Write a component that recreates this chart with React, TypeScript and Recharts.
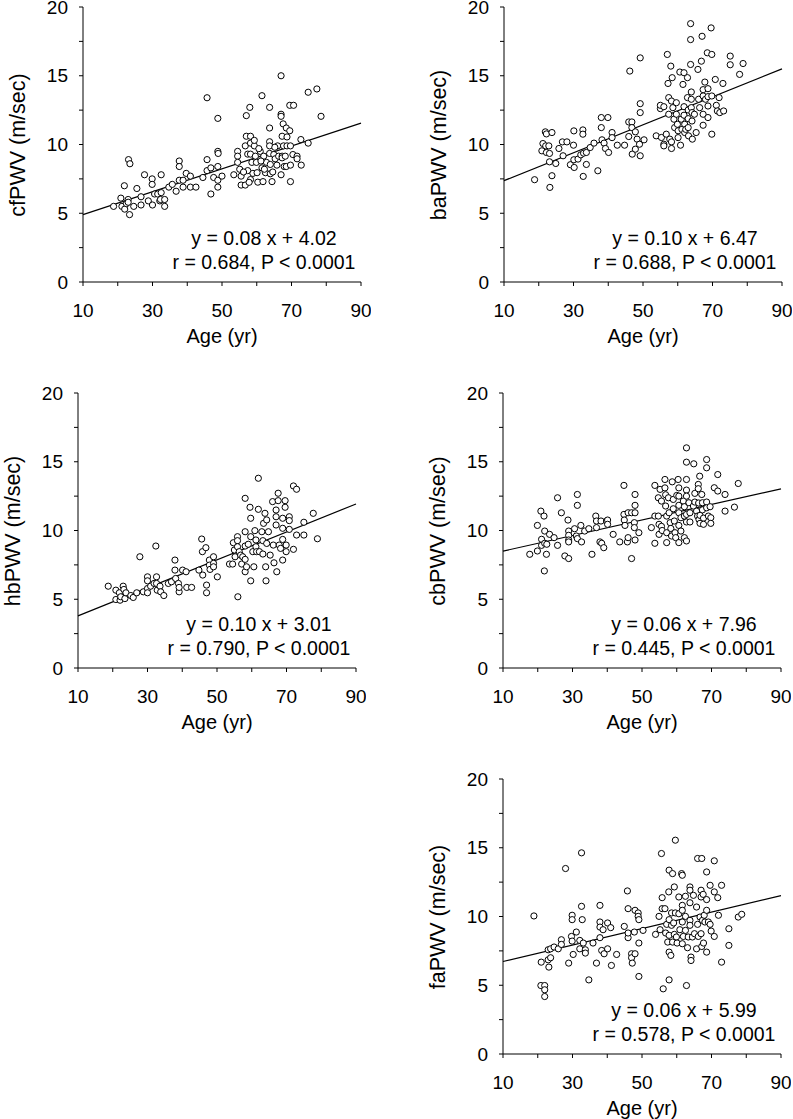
import { ScatterChart, Scatter, XAxis, YAxis, ReferenceLine } from 'recharts';

// ages (yr) vs pulse wave velocity (m/sec)
const cfPoints: [number, number][] = [
  [18.8, 5.5], [20.9, 6.1], [21.2, 5.5], [21.9, 7.0], [22.0, 5.3], [22.5, 5.7], [23.0, 6.0], [23.0, 5.8],
  [23.1, 8.9], [23.5, 8.6], [23.4, 4.9], [24.6, 5.5], [25.5, 6.8], [26.7, 6.2], [26.7, 5.6], [27.7, 7.8],
  [28.8, 5.9], [29.9, 7.5], [29.9, 7.1], [30.0, 5.6], [30.6, 6.4], [31.5, 6.4], [32.1, 5.9], [32.5, 7.8],
  [32.5, 6.5], [32.3, 6.0], [33.5, 6.0], [33.5, 5.5], [34.7, 6.9], [35.7, 7.1], [36.8, 6.6], [37.7, 8.8],
  [37.7, 8.4], [37.7, 7.4], [38.8, 7.4], [38.8, 6.9], [39.7, 7.9], [40.9, 7.7], [40.9, 6.9], [42.5, 6.9],
  [44.5, 7.6], [45.7, 8.9], [45.7, 13.4], [45.7, 8.1], [46.8, 8.3], [46.8, 6.4], [47.6, 7.6], [48.8, 11.9],
  [48.8, 9.5], [48.9, 9.35], [48.8, 8.4], [48.8, 7.4], [48.8, 6.9], [50.0, 7.7],
  [53.4, 7.8], [54.5, 9.5], [54.5, 9.15], [54.5, 8.7], [55.1, 8.2], [55.5, 7.7], [55.5, 7.05], [56.7, 9.9],
  [57.0, 10.6], [57.0, 12.1], [57.4, 9.3], [57.4, 8.1], [56.7, 7.05], [58.0, 12.7], [58.2, 10.6], [58.2, 10.1],
  [58.2, 9.3], [58.6, 8.7], [58.9, 7.9], [58.2, 7.45], [57.8, 7.25], [59.3, 9.9], [59.6, 9.15], [59.9, 8.7],
  [60.1, 7.95], [60.3, 7.26], [61.0, 9.5], [61.5, 8.3], [61.5, 13.55], [61.8, 7.3], [62.0, 9.15], [62.5, 7.95],
  [62.8, 8.7], [63.7, 12.7], [63.7, 11.2], [63.7, 10.2], [63.7, 9.9], [63.7, 9.35], [63.9, 8.55], [63.9, 7.87],
  [64.4, 7.3], [64.9, 9.27], [65.3, 8.96], [65.8, 8.5], [66.3, 9.15], [66.0, 9.9], [67.0, 15.0], [67.0, 12.2],
  [67.0, 12.05], [67.3, 10.6], [67.6, 11.5], [67.7, 9.9], [67.3, 9.15], [67.3, 9.03], [67.9, 8.4], [67.0, 7.8],
  [68.5, 11.2], [68.7, 10.55], [68.7, 9.9], [68.2, 9.15], [68.5, 8.4], [69.5, 12.85], [69.5, 11.0], [69.7, 9.9],
  [69.7, 8.5], [69.7, 7.3], [70.6, 12.85], [70.4, 9.27], [71.6, 9.15], [71.6, 8.96], [72.7, 10.36], [72.8, 8.5],
  [74.8, 13.8], [74.8, 10.1], [77.3, 14.04], [78.5, 12.05], [56.2, 8.0], [60.6, 9.7], [62.2, 8.2], [65.2, 9.8],
  [59.3, 10.3], [61.2, 8.8], [64.6, 8.0],
];

const baPoints: [number, number][] = [
  [18.8, 7.44], [21.2, 10.07], [20.9, 9.54], [21.9, 10.92], [22.2, 10.77], [22.0, 9.9], [22.2, 9.42], [22.9, 9.9],
  [23.1, 9.35], [23.1, 8.74], [23.2, 6.88], [23.8, 10.87], [23.8, 7.73], [24.9, 8.62], [25.8, 9.71], [26.8, 10.19],
  [27.0, 9.18], [28.1, 10.19], [29.1, 8.53], [30.0, 9.95], [30.1, 10.99], [30.1, 8.89], [30.2, 8.33], [31.3, 8.94],
  [32.1, 9.25], [32.7, 11.06], [32.7, 10.75], [32.8, 7.68], [32.9, 9.37], [33.7, 8.55], [33.7, 9.42], [34.8, 9.78],
  [35.9, 10.1], [37.0, 8.09], [38.0, 11.96], [38.0, 11.23], [38.2, 10.34], [38.8, 10.1], [39.2, 9.71], [39.9, 11.96],
  [40.1, 9.42], [41.1, 10.87], [41.1, 10.5], [42.6, 9.95], [44.7, 9.95], [45.9, 10.58], [45.9, 11.64], [46.2, 15.34],
  [46.8, 11.64], [46.8, 11.23], [46.9, 9.3], [47.8, 10.92], [47.8, 9.66], [48.3, 10.39], [49.0, 10.02], [49.2, 12.97],
  [49.2, 12.32], [49.2, 16.3], [49.2, 9.18], [50.3, 10.34],
  [53.8, 10.63], [55.0, 12.61], [55.0, 12.85], [55.3, 10.51], [56.0, 10.02], [56.0, 9.9], [56.0, 12.75], [56.7, 10.75],
  [57.0, 16.55], [57.2, 14.44], [57.4, 13.41], [57.4, 12.2], [57.7, 10.39], [58.0, 15.7], [58.2, 13.16], [58.2, 10.19],
  [58.2, 9.71], [58.4, 14.86], [58.6, 12.68], [58.9, 11.84], [59.1, 11.23], [59.6, 13.04], [59.6, 12.2], [59.9, 11.47],
  [60.1, 11.0], [60.1, 10.5], [60.6, 15.27], [60.8, 9.95], [61.0, 11.84], [61.2, 11.1], [61.5, 14.37], [61.8, 15.22],
  [61.8, 12.75], [61.8, 12.13], [62.0, 11.47], [62.0, 10.87], [62.3, 11.1], [62.8, 14.86], [62.8, 13.41], [63.0, 12.51],
  [63.0, 11.88], [63.0, 11.23], [63.1, 10.63], [63.7, 18.79], [63.7, 17.63], [63.7, 15.82], [63.9, 13.82], [63.9, 13.29],
  [63.9, 12.68], [64.1, 12.32], [64.1, 11.71], [64.2, 10.39], [64.8, 12.2], [65.3, 10.87], [65.8, 15.46], [66.0, 13.29],
  [66.3, 12.68], [66.8, 16.06], [67.0, 17.87], [67.3, 13.99], [67.3, 13.53], [67.3, 12.2], [67.3, 11.4], [67.8, 14.54],
  [68.0, 13.29], [68.5, 16.67], [68.7, 14.06], [68.7, 13.48], [68.7, 12.8], [68.7, 11.96], [69.6, 18.48], [69.8, 16.55],
  [69.8, 13.53], [69.8, 10.75], [70.8, 14.73], [71.1, 12.85], [71.4, 12.44], [71.9, 13.41], [72.1, 12.32], [73.0, 14.44],
  [73.2, 12.44], [75.1, 16.43], [75.1, 15.8], [77.8, 15.1], [78.8, 15.89],
];

const hbPoints: [number, number][] = [
  [18.7, 5.95], [20.9, 5.66], [20.9, 4.98], [21.9, 5.47], [22.1, 4.93], [22.3, 5.18], [23.0, 5.95], [23.2, 5.71],
  [23.5, 5.05], [23.8, 5.47], [25.2, 5.27], [25.9, 5.13], [26.9, 5.47], [27.8, 8.09], [28.8, 5.54], [30.0, 6.63],
  [30.0, 6.34], [30.0, 5.78], [30.0, 5.47], [30.9, 5.95], [31.9, 6.15], [32.4, 8.87], [32.6, 6.63], [32.6, 6.15],
  [32.8, 5.66], [33.6, 5.95], [33.8, 5.54], [34.7, 5.27], [36.0, 6.15], [36.9, 6.27], [37.9, 7.85], [37.9, 7.12],
  [38.1, 6.51], [38.9, 6.15], [39.1, 5.54], [39.1, 5.86], [40.1, 7.12], [41.1, 7.0], [41.3, 5.86], [42.7, 5.86],
  [44.8, 7.12], [45.6, 9.38], [45.8, 8.46], [45.9, 6.76], [46.8, 8.75], [47.0, 6.03], [47.0, 5.47], [47.8, 7.85],
  [47.8, 7.48], [48.0, 7.17], [49.0, 8.09], [49.0, 7.61], [49.0, 7.36], [50.1, 6.63],
  [53.6, 7.56], [54.5, 7.56], [54.7, 9.11], [55.0, 8.58], [55.2, 8.09], [55.9, 9.55], [55.9, 9.26], [55.9, 8.82],
  [56.0, 5.18], [56.4, 8.46], [56.8, 8.21], [57.1, 7.56], [57.4, 8.09], [58.1, 12.34], [58.1, 9.91], [58.1, 8.87],
  [58.1, 7.9], [58.1, 7.0], [58.5, 7.36], [59.0, 9.0], [59.5, 11.69], [59.7, 10.89], [59.7, 9.55], [59.7, 6.34],
  [60.3, 8.46], [60.6, 7.36], [60.9, 9.99], [61.2, 9.31], [61.2, 8.82], [61.4, 8.46], [61.9, 13.8], [61.9, 11.54],
  [62.2, 8.46], [62.9, 9.91], [63.2, 9.26], [63.2, 8.29], [63.4, 10.52], [63.8, 11.25], [64.0, 7.36], [64.1, 6.34],
  [64.3, 10.77], [64.3, 9.06], [64.8, 9.91], [65.3, 8.21], [66.0, 12.1], [66.2, 8.94], [66.4, 7.65], [67.0, 11.49],
  [67.0, 11.0], [67.0, 10.4], [67.2, 7.0], [67.6, 12.71], [67.6, 12.17], [67.9, 8.94], [68.3, 8.7], [68.9, 10.89],
  [68.9, 10.16], [68.9, 9.35], [68.9, 7.85], [69.6, 12.17], [69.6, 11.69], [69.9, 8.94], [69.9, 8.46], [70.8, 11.0],
  [70.8, 10.72], [70.8, 10.08], [72.0, 8.63], [72.0, 13.24], [72.9, 13.0], [72.9, 9.67], [75.0, 9.67], [75.0, 10.6],
  [77.7, 11.25], [78.9, 9.4],
];

const cbPoints: [number, number][] = [
  [17.7, 8.27], [19.9, 10.37], [19.9, 8.51], [20.9, 11.41], [21.1, 9.36], [21.1, 8.92], [21.8, 11.05], [22.0, 9.96],
  [22.0, 9.07], [21.9, 7.06], [22.5, 8.27], [22.6, 9.0], [23.4, 9.72], [24.7, 9.48], [25.7, 12.38], [25.7, 8.92],
  [26.8, 11.29], [27.8, 8.15], [28.7, 10.76], [28.9, 9.96], [28.9, 9.65], [28.9, 9.31], [28.9, 9.17], [28.9, 7.96],
  [30.6, 10.13], [31.1, 9.6], [31.4, 12.62], [31.4, 11.83], [31.4, 9.41], [32.4, 10.37], [32.6, 9.17], [33.5, 9.96],
  [34.7, 10.13], [35.6, 8.27], [36.7, 11.05], [36.9, 10.69], [36.9, 10.21], [37.9, 9.17], [38.2, 10.69], [38.4, 9.07],
  [39.0, 8.75], [39.8, 10.69], [40.1, 10.76], [40.1, 10.45], [41.7, 9.72], [43.6, 9.17], [44.8, 13.28], [44.8, 11.17],
  [44.9, 10.76], [45.1, 10.37], [45.8, 9.17], [46.0, 11.29], [46.0, 9.48], [47.0, 11.29], [47.0, 7.96], [47.8, 10.57],
  [47.8, 10.21], [48.0, 11.83], [48.0, 11.29], [48.0, 12.62], [48.0, 9.31], [49.1, 9.84],
  [52.7, 10.21], [53.7, 13.28], [53.7, 11.05], [53.7, 9.07], [54.7, 12.38], [54.7, 11.05], [54.9, 10.45], [54.9, 9.72],
  [55.2, 12.99], [55.6, 12.14], [55.6, 10.3], [55.8, 10.0], [56.6, 13.71], [56.6, 13.1], [56.8, 12.6], [56.8, 11.78],
  [57.1, 11.05], [57.1, 9.84], [57.1, 9.12], [57.6, 12.38], [57.8, 11.29], [58.1, 10.57], [58.3, 10.15], [58.5, 9.6],
  [58.7, 13.54], [59.0, 12.26], [59.0, 11.58], [59.3, 10.69], [59.5, 9.84], [59.7, 9.48], [60.0, 12.55], [60.4, 13.71],
  [60.6, 13.1], [60.6, 12.5], [60.6, 11.83], [60.6, 11.29], [60.6, 10.37], [60.6, 9.12], [61.2, 10.93], [61.2, 9.96],
  [61.9, 12.14], [62.2, 11.73], [62.2, 11.05], [62.2, 9.48], [62.8, 16.01], [62.8, 14.97], [62.8, 13.71], [62.8, 12.94],
  [62.8, 12.5], [62.8, 11.17], [62.8, 10.62], [62.8, 9.24], [63.5, 12.02], [63.8, 11.29], [63.8, 10.62], [64.9, 14.85],
  [64.8, 11.78], [65.2, 12.7], [65.2, 12.07], [65.7, 11.41], [66.0, 11.05], [66.2, 13.35], [66.2, 13.04], [66.3, 12.0],
  [66.4, 10.8], [66.6, 13.95], [66.7, 11.1], [66.7, 10.52], [67.2, 12.62], [67.4, 12.02], [67.4, 11.5], [67.7, 10.9],
  [67.7, 10.45], [68.6, 15.16], [68.6, 14.56], [68.6, 12.07], [68.6, 11.65], [69.1, 11.05], [69.6, 11.73], [69.8, 10.93],
  [69.8, 10.52], [70.8, 13.11], [71.8, 12.87], [71.8, 14.07], [73.9, 12.62], [73.9, 11.41], [76.6, 11.7], [77.7, 13.42],
];

const faPoints: [number, number][] = [
  [18.9, 10.04], [21.0, 6.68], [20.9, 4.98], [22.0, 4.98], [22.0, 4.67], [22.0, 4.18], [23.0, 7.58], [23.0, 6.85],
  [23.2, 6.32], [23.7, 7.0], [23.7, 7.65], [24.7, 7.78], [25.9, 7.65], [26.8, 8.31], [26.8, 7.97], [28.0, 13.49],
  [28.9, 6.61], [29.7, 8.55], [29.9, 8.21], [29.9, 10.09], [29.9, 9.77], [30.2, 7.24], [31.1, 8.87], [32.1, 8.26],
  [32.1, 7.65], [32.6, 14.63], [32.6, 10.74], [32.8, 9.77], [33.1, 8.07], [33.7, 7.58], [33.7, 7.34], [34.7, 5.39],
  [35.9, 8.07], [36.9, 6.61], [37.9, 10.81], [37.9, 9.6], [37.9, 9.23], [37.9, 8.46], [38.4, 7.53], [38.8, 9.04],
  [39.1, 7.29], [40.1, 9.53], [40.1, 7.65], [41.0, 9.19], [41.2, 6.44], [42.7, 7.24], [44.9, 9.28], [45.8, 11.86],
  [46.0, 10.57], [46.0, 8.46], [46.0, 8.8], [47.0, 7.29], [47.0, 7.0], [47.2, 6.61], [47.8, 8.87], [48.0, 10.45],
  [48.0, 7.29], [48.9, 10.26], [48.9, 10.01], [49.1, 9.77], [49.1, 8.07], [49.1, 5.64], [50.3, 8.99],
  [53.9, 8.7], [54.9, 10.01], [55.2, 9.04], [55.6, 14.58], [55.8, 10.57], [55.8, 11.37], [56.1, 4.74], [56.6, 10.57],
  [56.8, 8.8], [57.1, 9.43], [57.4, 8.14], [57.7, 11.79], [57.8, 13.37], [57.8, 9.77], [57.8, 8.63], [57.8, 7.41],
  [57.8, 5.39], [58.3, 7.17], [58.5, 10.26], [58.5, 9.36], [58.8, 8.14], [58.8, 13.12], [59.1, 9.53], [59.3, 12.15],
  [59.3, 8.7], [59.6, 15.55], [59.6, 10.26], [59.9, 8.51], [60.1, 8.07], [60.6, 11.42], [60.6, 10.2], [60.9, 9.04],
  [61.4, 13.12], [61.6, 13.0], [61.6, 10.81], [61.6, 10.45], [61.6, 9.6], [61.6, 8.02], [61.9, 8.55], [62.5, 11.47],
  [62.5, 10.01], [62.5, 8.99], [62.8, 4.98], [63.1, 7.73], [63.3, 8.51], [63.8, 12.15], [63.8, 11.91], [63.8, 11.0],
  [63.8, 9.72], [63.8, 9.36], [64.1, 7.05], [64.1, 6.8], [64.5, 8.51], [64.8, 11.54], [65.1, 8.75], [65.7, 10.69],
  [65.7, 7.65], [66.0, 14.22], [66.0, 9.43], [66.2, 8.55], [66.7, 9.96], [67.0, 11.91], [67.0, 11.42], [67.0, 8.75],
  [67.2, 14.22], [67.2, 7.82], [67.4, 9.72], [67.7, 8.07], [67.6, 11.61], [67.9, 10.09], [68.1, 9.6], [68.6, 13.24],
  [68.6, 11.23], [68.6, 10.45], [68.6, 7.41], [69.1, 9.6], [69.6, 12.27], [69.6, 9.43], [69.9, 8.94], [70.8, 14.05],
  [70.8, 11.79], [70.8, 8.55], [71.8, 11.37], [72.0, 10.09], [72.9, 12.27], [72.9, 6.68], [75.0, 9.11], [75.0, 7.9],
  [77.7, 9.96], [78.7, 10.16],
];

const yTitles = ['cfPWV (m/sec)', 'baPWV (m/sec)', 'hbPWV (m/sec)', 'cbPWV (m/sec)', 'faPWV (m/sec)'];
const equations = ['y = 0.08 x + 4.02', 'y = 0.10 x + 6.47', 'y = 0.10 x + 3.01', 'y = 0.06 x + 7.96', 'y = 0.06 x + 5.99'];
const stats = [
  'r = 0.684, P < 0.0001',
  'r = 0.688, P < 0.0001',
  'r = 0.790, P < 0.0001',
  'r = 0.445, P < 0.0001',
  'r = 0.578, P < 0.0001',
];
// regression line as drawn, at age 10 and age 90
const fitAt10 = [4.9, 7.37, 3.79, 8.5, 6.73];
const fitAt90 = [11.55, 15.5, 11.93, 13.03, 11.52];

const xTicks = [10, 20, 30, 40, 50, 60, 70, 80, 90];
const xLabels = [10, 30, 50, 70, 90];
const yTicks = [0, 2.5, 5, 7.5, 10, 12.5, 15, 17.5, 20];
const yLabels = [0, 5, 10, 15, 20];

const allPoints = [cfPoints, baPoints, hbPoints, cbPoints, faPoints];

const FONT = '"Liberation Sans", Arial, Helvetica, sans-serif';

// top-left corner of each plot area on the page
const plotPos = [
  { left: 83, top: 7 },
  { left: 504, top: 7 },
  { left: 78, top: 393 },
  { left: 503, top: 393 },
  { left: 503, top: 779 },
];
const PLOT_W = 278;
const PLOT_H = 275;

const XTick = ({ x, y, payload }: any) =>
  xLabels.includes(payload.value) ? (
    <text x={x} y={y + 22} dy="0.35em" textAnchor="middle" fontSize={19} fontFamily={FONT} fill="#000">
      {payload.value}
    </text>
  ) : (
    <g />
  );

const YTick = ({ x, y, payload }: any) =>
  yLabels.includes(payload.value) ? (
    <text x={x - 9} y={y} dy="0.35em" textAnchor="end" fontSize={19} fontFamily={FONT} fill="#000">
      {payload.value}
    </text>
  ) : (
    <g />
  );

const OpenCircle = (props: any) => (
  <circle cx={props.cx} cy={props.cy} r={3.1} fill="#fff" stroke="#000" strokeWidth={1} />
);

function Panel({ i }: { i: number }) {
  const pos = plotPos[i];
  const data = allPoints[i].map(([x, y]) => ({ x, y }));
  return (
    <>
      <div style={{ position: 'absolute', left: pos.left - 80, top: pos.top - 10 }}>
        <ScatterChart width={368} height={350} margin={{ top: 10, right: 10, bottom: 0, left: 0 }}>
          <XAxis
            type="number"
            dataKey="x"
            domain={[10, 90]}
            ticks={xTicks}
            interval={0}
            height={65}
            tickSize={4}
            tick={<XTick />}
            axisLine={{ stroke: '#000', strokeWidth: 1 }}
            tickLine={{ stroke: '#000' }}
          />
          <YAxis
            type="number"
            dataKey="y"
            domain={[0, 20]}
            ticks={yTicks}
            interval={0}
            width={80}
            tickSize={4}
            tick={<YTick />}
            axisLine={{ stroke: '#000', strokeWidth: 1 }}
            tickLine={{ stroke: '#000' }}
          />
          <ReferenceLine
            segment={[
              { x: 10, y: fitAt10[i] },
              { x: 90, y: fitAt90[i] },
            ]}
            stroke="#000"
            strokeWidth={1.2}
            ifOverflow="visible"
          />
          <Scatter data={data} shape={OpenCircle} isAnimationActive={false} />
        </ScatterChart>
      </div>
      <div
        style={{
          position: 'absolute',
          left: pos.left - 65,
          top: pos.top + PLOT_H / 2,
          transform: 'translate(-50%, -50%) rotate(-90deg)',
          fontSize: 21.5,
          fontFamily: FONT,
          whiteSpace: 'nowrap',
          color: '#000',
        }}
      >
        {yTitles[i]}
      </div>
      <div
        style={{
          position: 'absolute',
          left: pos.left + PLOT_W / 2,
          top: pos.top + PLOT_H + 54,
          transform: 'translate(-50%, -50%)',
          fontSize: 20,
          fontFamily: FONT,
          whiteSpace: 'nowrap',
          color: '#000',
        }}
      >
        Age (yr)
      </div>
      <div
        style={{
          position: 'absolute',
          left: pos.left + 181,
          top: pos.top + 243,
          transform: 'translate(-50%, -50%)',
          fontSize: 19.5,
          lineHeight: '24px',
          fontFamily: FONT,
          whiteSpace: 'nowrap',
          textAlign: 'center',
          color: '#000',
        }}
      >
        <div>{equations[i]}</div>
        <div>{stats[i]}</div>
      </div>
    </>
  );
}

export default function App() {
  return (
    <div
      style={{
        position: 'absolute',
        left: 0,
        top: 0,
        width: 793,
        height: 1119,
        overflow: 'hidden',
        background: '#fff',
      }}
    >
      {[0, 1, 2, 3, 4].map((i) => (
        <Panel key={i} i={i} />
      ))}
    </div>
  );
}
